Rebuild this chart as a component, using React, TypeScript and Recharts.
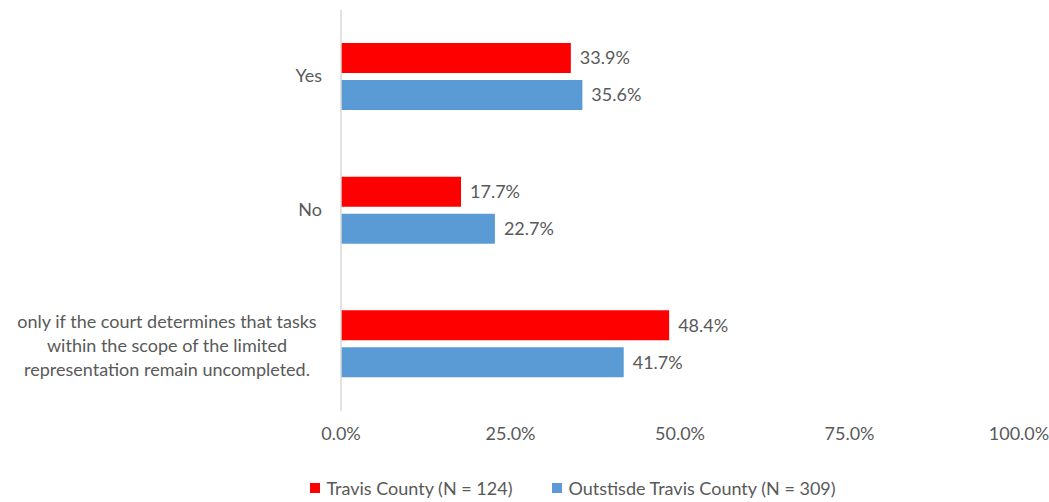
import { BarChart, Bar, XAxis, YAxis, Legend, LabelList } from "recharts"

const categories = [
  "Yes",
  "No",
  "only if the court determines that tasks\nwithin the scope of the limited\nrepresentation remain uncompleted.",
]
const seriesNames = ["Travis County (N = 124)", "Outstisde Travis County (N = 309)"]
const travisCounty = [33.9, 17.7, 48.4]
const outsideTravis = [35.6, 22.7, 41.7]
const xTicks = [0, 25, 50, 75, 100]

const data = categories.map((answer, i) => ({
  answer,
  travis: travisCounty[i],
  outside: outsideTravis[i],
}))

const textColor = "#595959"
const font = "Lato, 'Open Sans', sans-serif"
const fs = 18

const pct = (v: number) => `${v.toFixed(1)}%`

function CategoryTick(props: any) {
  const { x, y, payload } = props
  const lines = String(payload.value).split("\n")
  if (lines.length === 1) {
    return (
      <text x={x - 11} y={y} dy={5} textAnchor="end" fill={textColor} fontSize={fs} fontFamily={font}>
        {lines[0]}
      </text>
    )
  }
  const lineH = 24
  const top = y - ((lines.length - 1) * lineH) / 2
  return (
    <text textAnchor="middle" fill={textColor} fontSize={fs} fontFamily={font}>
      {lines.map((l, i) => (
        <tspan key={i} x={x - 166} y={top + i * lineH} dy={8}>
          {l}
        </tspan>
      ))}
    </text>
  )
}

function LegendContent(props: any) {
  const items = [...(props.payload || [])].sort(
    (a: any, b: any) => seriesNames.indexOf(a.value) - seriesNames.indexOf(b.value)
  )
  return (
    <div style={{ display: "flex", justifyContent: "center", paddingLeft: 127, fontFamily: font, fontSize: fs, color: textColor, lineHeight: "22px" }}>
      {items.map((p: any, i: number) => (
        <div key={i} style={{ display: "flex", alignItems: "center", marginRight: i === 0 ? 40 : 0 }}>
          <span style={{ width: 10, height: 10, background: p.color, display: "inline-block", marginRight: 6 }} />
          <span>{p.value}</span>
        </div>
      ))}
    </div>
  )
}

export default function App() {
  return (
    <div style={{ background: "#fff", width: 1049, height: 502 }}>
      <style>{"body{margin:0}"}</style>
      <BarChart
        width={1049}
        height={502}
        data={data}
        layout="vertical"
        margin={{ top: 10, right: 30, left: 0, bottom: 3 }}
        barGap={7}
      >
        <XAxis
          type="number"
          domain={[0, 100]}
          ticks={xTicks}
          tickFormatter={pct}
          axisLine={false}
          tickLine={false}
          tickMargin={10}
          height={66}
          tick={{ fill: textColor, fontSize: fs, fontFamily: font }}
        />
        <YAxis
          type="category"
          dataKey="answer"
          width={341}
          tickLine={false}
          axisLine={{ stroke: "#d9d9d9", strokeWidth: 1.5 }}
          tick={<CategoryTick />}
        />
        <Legend verticalAlign="bottom" content={<LegendContent />} />
        <Bar dataKey="travis" name={seriesNames[0]} fill="#ff0000" barSize={30} isAnimationActive={false}>
          <LabelList dataKey="travis" position="right" offset={9} formatter={(v: any) => pct(Number(v))} fill={textColor} fontSize={fs} fontFamily={font} />
        </Bar>
        <Bar dataKey="outside" name={seriesNames[1]} fill="#5b9bd5" barSize={30} isAnimationActive={false}>
          <LabelList dataKey="outside" position="right" offset={9} formatter={(v: any) => pct(Number(v))} fill={textColor} fontSize={fs} fontFamily={font} />
        </Bar>
      </BarChart>
    </div>
  )
}
